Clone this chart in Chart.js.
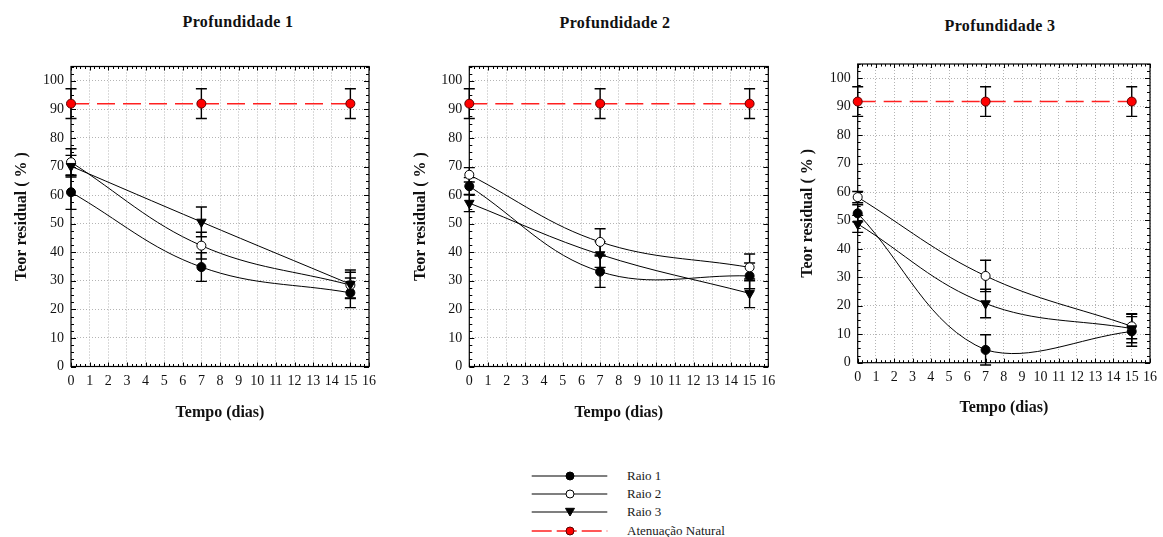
<!DOCTYPE html>
<html>
<head>
<meta charset="utf-8">
<script src="https://cdn.jsdelivr.net/npm/chart.js@4/dist/chart.umd.min.js"></script>
<style>
  html, body { margin: 0; padding: 0; background: #fff; }
  body { width: 1163px; height: 537px; position: relative; overflow: hidden; font-family: 'Liberation Serif', 'Times New Roman', serif; }
  canvas { position: absolute; top: 0; }
  .ptitle { position: absolute; font: bold 16px 'Liberation Serif', serif; line-height: 16px; letter-spacing: 0.35px; white-space: nowrap; transform: translateX(-50%); color: #111; }
  .lg-row { position: absolute; left: 531px; width: 240px; height: 16px; }
  .lg-row svg { position: absolute; left: 0; top: 1px; }
  .lg-row span { position: absolute; left: 96px; top: 0; font: 13px 'Liberation Serif', serif; line-height: 16px; color: #1a1a1a; white-space: nowrap; }
</style>
</head>
<body>
<div id="titles"></div>
<canvas id="c1" width="384" height="440" style="left:0px"></canvas>
<canvas id="c2" width="384" height="440" style="left:400px"></canvas>
<canvas id="c3" width="373" height="440" style="left:790px"></canvas>
<div id="legend"></div>
<script>
// ---------------- DATA ----------------
const panelTitles = ['Profundidade 1', 'Profundidade 2', 'Profundidade 3'];
const seriesNames = ['Raio 1', 'Raio 2', 'Raio 3', 'Atenuação Natural'];
const yAxisTitle = 'Teor residual ( % )';
const xAxisTitle = 'Tempo (dias)';
const days = [0, 7, 15];
const xTicks = [0, 1, 2, 3, 4, 5, 6, 7, 8, 9, 10, 11, 12, 13, 14, 15, 16];
const yTicks = [0, 10, 20, 30, 40, 50, 60, 70, 80, 90, 100];

// Profundidade 1
const p1Raio1 = [61.0, 34.8, 25.8];
const p1Raio1Err = [6.0, 5.0, 5.2];
const p1Raio2 = [71.5, 42.3, 28.5];
const p1Raio2Err = [4.7, 4.7, 4.5];
const p1Raio3 = [70.1, 50.6, 28.8];
const p1Raio3Err = [3.8, 5.2, 5.0];
const p1Natural = [92.0, 92.0, 92.0];
const p1NaturalErr = [5.2, 5.2, 5.2];

// Profundidade 2
const p2Raio1 = [63.1, 33.2, 31.7];
const p2Raio1Err = [3.0, 5.5, 4.5];
const p2Raio2 = [67.1, 43.6, 34.7];
const p2Raio2Err = [2.5, 4.6, 4.7];
const p2Raio3 = [57.2, 39.2, 25.6];
const p2Raio3Err = [3.0, 4.5, 5.0];
const p2Natural = [92.0, 92.0, 92.0];
const p2NaturalErr = [5.2, 5.2, 5.2];

// Profundidade 3
const p3Raio1 = [52.5, 4.5, 11.0];
const p3Raio1Err = [3.0, 5.3, 5.2];
const p3Raio2 = [58.2, 30.5, 12.8];
const p3Raio2Err = [2.0, 5.5, 4.4];
const p3Raio3 = [48.8, 20.8, 12.0];
const p3Raio3Err = [3.0, 5.0, 5.0];
const p3Natural = [91.8, 91.8, 91.8];
const p3NaturalErr = [5.2, 5.2, 5.2];

const panelData = [
  { values: [p1Raio1, p1Raio2, p1Raio3, p1Natural], errors: [p1Raio1Err, p1Raio2Err, p1Raio3Err, p1NaturalErr] },
  { values: [p2Raio1, p2Raio2, p2Raio3, p2Natural], errors: [p2Raio1Err, p2Raio2Err, p2Raio3Err, p2NaturalErr] },
  { values: [p3Raio1, p3Raio2, p3Raio3, p3Natural], errors: [p3Raio1Err, p3Raio2Err, p3Raio3Err, p3NaturalErr] }
];

// ---------------- LAYOUT / STYLE ----------------
const layouts = [
  { canvas: 'c1', yW: 71.0, yTitlePad: 12.4, padTop: 66.5, padRight: 15.0, xH: 73.5, xTitlePad: 17.7, titleX: 238, titleTop: 13.6 },
  { canvas: 'c2', yW: 69.3, yTitlePad: 11.1, padTop: 66.5, padRight: 15.7, xH: 73.5, xTitlePad: 17.7, titleX: 615, titleTop: 15.0 },
  { canvas: 'c3', yW: 67.7, yTitlePad: 8.7, padTop: 64.0, padRight: 10.3, xH: 77.3, xTitlePad: 22.4, titleX: 1000, titleTop: 18.0 }
];

const seriesStyles = [
  { borderColor: '#000', borderWidth: 1, borderDash: [], pointStyle: 'circle', pointRadius: 4.5, pointRotation: 0, pointBackgroundColor: '#000', pointBorderColor: '#000', tension: 0.38 },
  { borderColor: '#000', borderWidth: 1, borderDash: [], pointStyle: 'circle', pointRadius: 4.5, pointRotation: 0, pointBackgroundColor: '#fff', pointBorderColor: '#000', tension: 0.38 },
  { borderColor: '#000', borderWidth: 1, borderDash: [], pointStyle: 'triangle', pointRadius: 5.5, pointRotation: 180, pointBackgroundColor: '#000', pointBorderColor: '#000', tension: 0.38 },
  { borderColor: '#ff2020', borderWidth: 1.5, borderDash: [18, 8], pointStyle: 'circle', pointRadius: 4.5, pointRotation: 0, pointBackgroundColor: '#ff0000', pointBorderColor: '#5a0000', tension: 0 }
];

const tickFont = { family: "'Liberation Serif', serif", size: 14 };
const titleFont = { family: "'Liberation Serif', serif", size: 16, weight: 'bold' };

// Plugin: frame, inward ticks, error bars (drawn under the datasets)
const decorPlugin = {
  id: 'decor',
  beforeDatasetsDraw(chart) {
    const { ctx, chartArea: a, scales: { x, y } } = chart;
    ctx.save();
    ctx.strokeStyle = '#000';
    ctx.lineWidth = 1.2;
    ctx.strokeRect(a.left, a.top, a.right - a.left, a.bottom - a.top);
    ctx.lineWidth = 1;
    ctx.beginPath();
    for (let v = x.min; v <= x.max + 1e-9; v += 0.25) {
      const px = Math.round(x.getPixelForValue(v)) + 0.5;
      const len = Math.abs(v - Math.round(v)) < 1e-9 ? 4 : 2.5;
      ctx.moveTo(px, a.bottom); ctx.lineTo(px, a.bottom - len);
      ctx.moveTo(px, a.top); ctx.lineTo(px, a.top + len);
    }
    for (let v = y.min; v <= y.max + 1e-9; v += 2.5) {
      const py = Math.round(y.getPixelForValue(v)) + 0.5;
      const len = Math.abs(v % 10) < 1e-9 ? 5 : 3;
      ctx.moveTo(a.left, py); ctx.lineTo(a.left + len, py);
      ctx.moveTo(a.right, py); ctx.lineTo(a.right - len, py);
    }
    ctx.stroke();
    ctx.lineWidth = 1.4;
    ctx.strokeStyle = '#000';
    chart.data.datasets.forEach((ds) => {
      if (!ds.errors) return;
      ds.data.forEach((pt, j) => {
        const e = ds.errors[j];
        const px = x.getPixelForValue(pt.x);
        const top = y.getPixelForValue(pt.y + e);
        const bot = y.getPixelForValue(pt.y - e);
        ctx.beginPath();
        ctx.moveTo(px, top); ctx.lineTo(px, bot);
        ctx.moveTo(px - 5.5, top); ctx.lineTo(px + 5.5, top);
        ctx.moveTo(px - 5.5, bot); ctx.lineTo(px + 5.5, bot);
        ctx.stroke();
      });
    });
    ctx.restore();
  }
};

function buildDatasets(pd) {
  return pd.values.map((vals, i) => {
    const st = seriesStyles[i];
    return Object.assign({
      label: seriesNames[i],
      data: days.map((d, j) => ({ x: d, y: vals[j] })),
      errors: pd.errors[i],
      clip: false,
      fill: false,
      pointBorderWidth: 1,
      order: 3 - i
    }, st);
  });
}

layouts.forEach((L, idx) => {
  const ctx = document.getElementById(L.canvas).getContext('2d');
  new Chart(ctx, {
    type: 'line',
    data: { datasets: buildDatasets(panelData[idx]) },
    options: {
      responsive: false,
      animation: false,
      events: [],
      devicePixelRatio: 1,
      layout: { padding: { left: 0, top: L.padTop, right: L.padRight, bottom: 0 } },
      plugins: { legend: { display: false }, tooltip: { enabled: false }, title: { display: false } },
      scales: {
        x: {
          type: 'linear',
          min: 0, max: 16,
          afterBuildTicks: (s) => { s.ticks = xTicks.map(v => ({ value: v })); },
          afterFit: (s) => { s.height = L.xH; },
          ticks: { font: tickFont, color: '#111', padding: 6, maxRotation: 0, autoSkip: false, callback: (v) => String(v) },
          grid: { color: '#b4b4b4', lineWidth: 1, drawTicks: false },
          border: { display: false, dash: [1, 2] },
          title: { display: true, text: xAxisTitle, font: titleFont, color: '#111', padding: { top: 0, bottom: L.xTitlePad } }
        },
        y: {
          type: 'linear',
          min: 0, max: 105,
          afterBuildTicks: (s) => { s.ticks = yTicks.map(v => ({ value: v })); },
          afterFit: (s) => { s.width = L.yW; },
          ticks: { font: tickFont, color: '#111', padding: 7, autoSkip: false, callback: (v) => String(v) },
          grid: { color: '#b4b4b4', lineWidth: 1, drawTicks: false },
          border: { display: false, dash: [1, 2] },
          title: { display: true, text: yAxisTitle, font: titleFont, color: '#111', padding: { top: L.yTitlePad, bottom: 0 } }
        }
      }
    },
    plugins: [decorPlugin]
  });

  const t = document.createElement('div');
  t.className = 'ptitle';
  t.textContent = panelTitles[idx];
  t.style.left = L.titleX + 'px';
  t.style.top = L.titleTop + 'px';
  document.getElementById('titles').appendChild(t);
});

// ---------------- LEGEND ----------------
const legendRowY = [475.7, 494.3, 512.3, 530.7];
const legend = document.getElementById('legend');
seriesNames.forEach((name, i) => {
  const st = seriesStyles[i];
  const row = document.createElement('div');
  row.className = 'lg-row';
  row.style.top = (legendRowY[i] - 8) + 'px';
  const dash = st.borderDash.length ? 'stroke-dasharray="20 5"' : '';
  let marker;
  if (st.pointStyle === 'triangle') {
    marker = `<polygon points="34.5,3.3 43.5,3.3 39,11" fill="${st.pointBackgroundColor}" stroke="${st.pointBorderColor}" stroke-width="1"/>`;
  } else {
    marker = `<circle cx="39" cy="7" r="4" fill="${st.pointBackgroundColor}" stroke="${st.pointBorderColor}" stroke-width="1"/>`;
  }
  row.innerHTML = `<svg width="80" height="14" xmlns="http://www.w3.org/2000/svg">
      <line x1="0.7" y1="7" x2="76.3" y2="7" stroke="${st.borderColor}" stroke-width="${st.borderWidth + 0.2}" ${dash}/>
      ${marker}</svg><span>${name}</span>`;
  legend.appendChild(row);
});
</script>
</body>
</html>
